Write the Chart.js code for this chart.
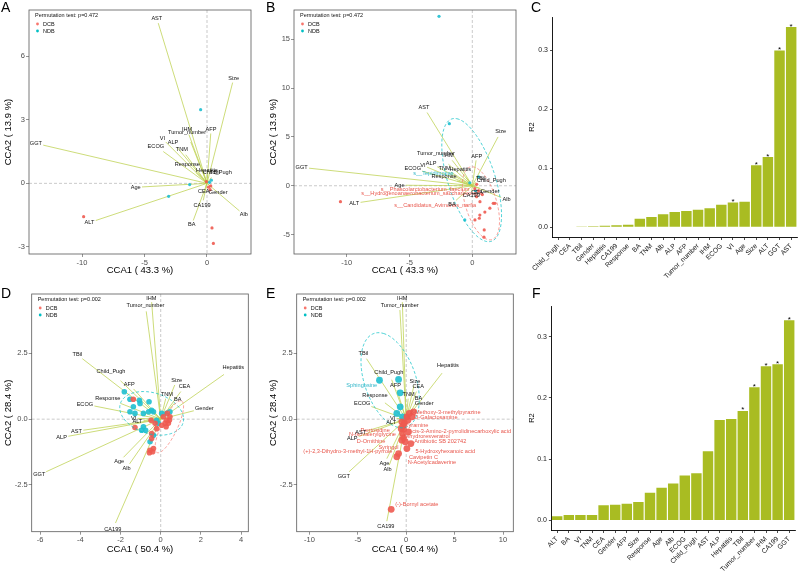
<!DOCTYPE html>
<html><head><meta charset="utf-8">
<script src="https://cdn.jsdelivr.net/npm/chart.js@4.4.1/dist/chart.umd.min.js"></script>
<style>
html,body{margin:0;padding:0;background:#fff;}
#wrap{position:relative;width:799px;height:571px;overflow:hidden;background:#fff;font-family:'Liberation Sans',Arial,Helvetica,sans-serif;}
canvas{position:absolute;}
.pl{position:absolute;font-size:14px;line-height:14px;color:#000;}
</style></head><body>
<div id="wrap">
<canvas id="cA" width="265" height="285" style="left:0;top:0"></canvas>
<canvas id="cB" width="260" height="285" style="left:265px;top:0"></canvas>
<canvas id="cC" width="274" height="285" style="left:525px;top:0"></canvas>
<canvas id="cD" width="265" height="286" style="left:0;top:285px"></canvas>
<canvas id="cE" width="260" height="286" style="left:265px;top:285px"></canvas>
<canvas id="cF" width="274" height="286" style="left:525px;top:285px"></canvas>
<div class="pl" style="left:1px;top:0">A</div>
<div class="pl" style="left:266px;top:0">B</div>
<div class="pl" style="left:531px;top:0">C</div>
<div class="pl" style="left:1px;top:286px">D</div>
<div class="pl" style="left:266px;top:286px">E</div>
<div class="pl" style="left:532px;top:286px">F</div>
</div>
<script>
// ---------------- DATA ----------------
// Panel A (CCA, species level)
const A_pText = 'Permutation test: p=0.472';
const A_xTitle = 'CCA1 ( 43.3 %)';
const A_yTitle = 'CCA2 ( 13.9 %)';
const A_xTicks = [-10, -5, 0];
const A_yTicks = [-3, 0, 3, 6];
const A_dcbX = [-9.87, 0.4, 0.51, 0.12, 0.25, -0.05, 0.3];
const A_dcbY = [-1.57, -2.1, -2.83, -0.18, -0.3, 0.08, -0.12];
const A_ndbX = [-0.51, -1.39, -3.07, 0.2, 0.35];
const A_ndbY = [3.47, -0.06, -0.61, 0.05, 0.15];
const A_envNames = ['AST','Size','GGT','AFP','IHM','Tumor_number','VI','ALP','ECOG','TNM','Response','Hepatitis','TBil','Child_Pugh','CEA','Gender','Age','ALT','CA199','BA','Alb'];
const A_envX = [-3.9, 2.05, -13.1, 0.3, -1.45, -1.3, -3.3, -2.4, -3.5, -1.7, -0.9, 0.0, 0.35, 0.1, -0.1, 0.3, -5.2, -8.9, -0.3, -1.1, 2.6];
const A_envY = [7.55, 4.75, 1.8, 2.35, 2.3, 1.95, 1.95, 1.7, 1.5, 1.35, 0.52, 0.45, 0.28, 0.06, -0.15, -0.15, -0.17, -1.75, -0.8, -1.75, -1.3];

// Panel B (CCA with species)
const B_pText = 'Permutation test: p=0.472';
const B_xTitle = 'CCA1 ( 43.3 %)';
const B_yTitle = 'CCA2 ( 13.9 %)';
const B_xTicks = [-10, -5, 0];
const B_yTicks = [-5, 0, 5, 10, 15];
const B_dcbX = [-10.5, 0.34, 0.61, 1.67, 0.56, 0.21, 0.95, 0.93, 1.4, 1.8, 0.6, 0.2, 0.5, 0.8, 0.35, 1.0];
const B_dcbY = [-1.63, -1.12, -1.63, -1.8, -3.33, -3.5, -4.52, -5.27, -2.3, -1.8, -3.0, -0.3, -0.5, -0.9, 0.15, -2.7];
const B_ndbX = [-2.65, -1.83, -0.6, 0.5, -0.2, 0.25];
const B_ndbY = [17.35, 6.36, -3.5, 0.9, 0.3, -0.5];
const B_envNames = A_envNames;
const B_envX = [-3.6, 2.05, -13.0, 0.3, -1.6, -1.9, -3.6, -2.8, -4.0, -1.7, -1.2, -0.5, 0.3, 0.3, 0.1, 0.6, -5.3, -8.9, -0.05, -1.3, 2.3];
const B_envY = [7.5, 5.0, 1.8, 2.6, 2.6, 2.2, 1.9, 1.95, 1.5, 1.4, 0.5, 0.85, 0.35, 0.1, -0.2, -0.25, 0.05, -1.7, -0.6, -1.5, -1.2];
const B_taxNames = ['s__Phascolarctobacterium_faecium','s__Hydrogenoanaerobacterium_saccharovorans','s__Candidatus_Avimonas_narfia','s__Tepidimonas'];
const B_taxX = [-3.76, -4.02, -2.96, -3.1];
const B_taxY = [-0.34, -0.78, -2.04, 1.22];
const B_taxGroup = ['DCB','DCB','DCB','NDB'];
// ellipse: centre x, centre y, axis-1 x, axis-1 y, axis-2 x, axis-2 y (data units)
const B_ellNDB = [-0.05, 0.58, -1.19, 6.29, 2.06, -0.51];
const B_ellDCB = [0.69, -1.8, -0.66, 3.74, 1.32, -0.17];

// Panel C (R2 of clinical factors, species)
const C_cats = ['Child_Pugh','CEA','TBil','Gender','Hepatitis','CA199','Response','BA','TNM','Alb','ALP','AFP','Tumor_number','IHM','ECOG','VI','Age','Size','ALT','GGT','AST'];
const C_r2 = [0.0003,0.0005,0.0008,0.0012,0.002,0.003,0.004,0.014,0.017,0.0215,0.0255,0.027,0.0295,0.032,0.038,0.0415,0.043,0.105,0.119,0.300,0.340];
const C_sig = [0,0,0,0,0,0,0,0,0,0,0,0,0,0,0,1,0,1,1,1,1];
const C_yTicks = [0, 0.1, 0.2, 0.3];

// Panel D (CCA, metabolite level)
const D_pText = 'Permutation test: p=0.002';
const D_xTitle = 'CCA1 ( 50.4 %)';
const D_yTitle = 'CCA2 ( 28.4 %)';
const D_xTicks = [-6, -4, -2, 0, 2, 4];
const D_yTicks = [-2.5, 0, 2.5];
const D_ndbX = [-1.81,-1.53,-1.06,-1.03,-0.58,-1.36,-1.53,-1.28,-0.86,-0.45,-0.36,-0.86,-0.75,-0.95,-0.53,-0.36,0.05,0.3,0.46,-0.2,-0.12,-0.6];
const D_ndbY = [1.04,0.76,0.72,0.6,0.66,0.47,0.28,0.22,0.22,0.34,0.28,-0.29,-0.42,-0.42,-0.86,-0.61,0.22,0.22,0.28,-0.04,-0.16,0.28];
const D_dcbX = [-1.36,-1.28,-0.48,-0.28,-0.45,-0.2,-0.45,-0.53,-0.56,-0.36,-0.4,0.13,0.3,0.38,0.46,0.22,0.33,0.27,0.43,0.05];
const D_dcbY = [0.76,-0.32,-0.04,-0.16,-0.55,-0.36,-0.74,-1.18,-1.28,-1.12,-1.24,0.09,-0.04,-0.16,0.09,-0.16,0.22,-0.29,-0.04,-0.23];
const D_envNames = ['IHM','Tumor_number','TBil','Hepatitis','Child_Pugh','Size','CEA','AFP','TNM','BA','Response','ECOG','Gender','VI','ALT','AST','ALP','GGT','Age','Alb','CA199'];
const D_envX = [-0.45, -0.72, -3.9, 3.15, -2.0, 0.7, 1.0, -1.35, 0.25, 0.68, -2.0, -3.3, 1.65, -1.15, -0.85, -3.85, -4.6, -5.7, -1.85, -1.55, -2.25];
const D_envY = [4.45, 4.1, 2.3, 1.7, 1.46, 1.3, 1.05, 1.15, 0.78, 0.6, 0.6, 0.5, 0.32, 0.03, -0.05, -0.42, -0.65, -2.0, -1.45, -1.7, -3.95];
const D_ellNDB = [-0.45, 0.22, 1.58, -0.13, -0.17, 0.82];
const D_ellDCB = [0.43, -0.29, 0.61, 0.98, 0.36, -0.13];

// Panel E (CCA with metabolites)
const E_pText = 'Permutation test: p=0.002';
const E_xTitle = 'CCA1 ( 50.4 %)';
const E_yTitle = 'CCA2 ( 28.4 %)';
const E_xTicks = [-10, -5, 0, 5, 10];
const E_yTicks = [-2.5, 0, 2.5];
const E_dcbX = [0.07,0.31,0.59,-0.45,-0.34,-0.28,-0.38,-0.28,-0.45,-0.1,0.07,-0.79,-0.97,0.48,0.24,-1.55,0.76,0.17,-0.52,-0.2];
const E_dcbY = [0.09,0.22,0.09,-0.1,-0.25,-0.38,-0.55,-0.71,-0.8,-0.86,-1.12,-1.31,-1.43,-0.93,-0.48,-3.43,0.28,-0.04,-0.36,-0.15];
const E_ndbX = [-2.76,-0.79,-0.62,-0.97,-0.38,-0.62];
const E_ndbY = [1.48,1.51,1.0,0.22,0.09,0.47];
const E_envNames = D_envNames;
const E_envX = [-0.4, -0.65, -4.1, 3.7, -1.5, 0.8, 1.05, -0.95, 0.2, 1.0, -2.2, -3.6, 1.1, -1.0, -0.9, -4.0, -4.9, -5.9, -2.0, -1.75, -2.0];
const E_envY = [4.45, 4.15, 2.3, 1.75, 1.5, 1.28, 1.05, 1.1, 0.78, 0.62, 0.62, 0.48, 0.35, 0.03, -0.07, -0.44, -0.66, -2.0, -1.5, -1.75, -3.88];
const E_metNames = ['2-Methoxy-3-methylpyrazine','D-Galactosamine','Tyramine','cis-3-Amino-2-pyrrolidinecarboxylic acid','Dihydroresveratrol','Antibiotic SB 202742','5-Hydroxyhexanoic acid','Cavipetin C','N-Acetylcadaverine','(-)-Bornyl acetate','Pentosidine','N-Isovalerylglycine','D-Ornithine','Syringol','(+)-2,3-Dihydro-3-methyl-1H-pyrrole','Sphingosine'];
const E_metX = [4.03, 3.07, 1.1, 5.72, 2.14, 3.52, 4.03, 1.79, 2.66, 1.1, -3.21, -3.48, -3.62, -1.83, -6.03, -4.59];
const E_metY = [0.24, 0.05, -0.23, -0.48, -0.67, -0.86, -1.21, -1.47, -1.66, -3.25, -0.42, -0.57, -0.84, -1.08, -1.24, 1.29];
const E_metGroup = ['DCB','DCB','DCB','DCB','DCB','DCB','DCB','DCB','DCB','DCB','DCB','DCB','DCB','DCB','DCB','NDB'];
const E_ellNDB = [-1.66, 1.48, -0.69, 1.78, 2.93, -0.32];

// Panel F (R2 of clinical factors, metabolites)
const F_cats = ['ALT','BA','VI','TNM','CEA','Gender','AFP','Size','Response','Age','Alb','ECOG','Child_Pugh','AST','ALP','Hepatitis','TBil','Tumor_number','IHM','CA199','GGT'];
const F_r2 = [0.0065,0.0087,0.0087,0.0087,0.0245,0.0256,0.0272,0.030,0.045,0.0533,0.060,0.073,0.0768,0.1127,0.1639,0.1655,0.1786,0.2172,0.2515,0.2548,0.3266];
const F_sig = [0,0,0,0,0,0,0,0,0,0,0,0,0,0,0,0,1,1,1,1,1];
const F_yTicks = [0, 0.1, 0.2, 0.3];

// ---------------- STYLE ----------------
const FONT = "'Liberation Sans', Arial, Helvetica, sans-serif";
const COL = {DCB:'#F8766D', NDB:'#00BFC4'};
const COL_PT = {DCB:'#EE5A50', NDB:'#1EBFD0'};
const COL_TXT = {DCB:'#E8564C', NDB:'#2DB5C8'};
const COL_ARROW = '#BCD04E';
const COL_BAR = '#A9BC22';

function rgba(hex, a){const n=parseInt(hex.slice(1),16);return `rgba(${n>>16&255},${n>>8&255},${n&255},${a})`;}

function ccaPlugin(o){
  return {
    id:'cca',
    beforeDatasetsDraw(chart){
      const {ctx, chartArea:ca, scales:{x,y}} = chart;
      ctx.save();
      ctx.strokeStyle='#A6A6A6'; ctx.lineWidth=0.6; ctx.setLineDash([3,2]);
      const x0=x.getPixelForValue(0), y0=y.getPixelForValue(0);
      ctx.beginPath(); ctx.moveTo(x0,ca.top); ctx.lineTo(x0,ca.bottom); ctx.stroke();
      ctx.beginPath(); ctx.moveTo(ca.left,y0); ctx.lineTo(ca.right,y0); ctx.stroke();
      ctx.restore();
    },
    afterDatasetsDraw(chart){
      const {ctx, chartArea:ca, scales:{x,y}} = chart;
      ctx.save();
      ctx.beginPath(); ctx.rect(ca.left,ca.top,ca.right-ca.left,ca.bottom-ca.top); ctx.clip();
      // ellipses
      (o.ells||[]).forEach(e=>{
        const p=e.p; ctx.strokeStyle=COL[e.g]; ctx.lineWidth=0.7; ctx.setLineDash([3,2]);
        ctx.beginPath();
        for(let k=0;k<=120;k++){const t=k/120*2*Math.PI;
          const dx=p[0]+p[2]*Math.cos(t)+p[4]*Math.sin(t), dy=p[1]+p[3]*Math.cos(t)+p[5]*Math.sin(t);
          const px=x.getPixelForValue(dx), py=y.getPixelForValue(dy);
          if(k===0)ctx.moveTo(px,py);else ctx.lineTo(px,py);}
        ctx.stroke();
      });
      ctx.setLineDash([]);
      // taxa / metabolite labels
      ctx.font = `5.6px ${FONT}`; ctx.textAlign='center'; ctx.textBaseline='middle';
      (o.tax||[]).forEach(t=>{
        t.names.forEach((n,i)=>{ctx.fillStyle=COL_TXT[t.g[i]];
          ctx.fillText(n, x.getPixelForValue(t.x[i]), y.getPixelForValue(t.y[i]));});
      });
      // arrow labels
      ctx.fillStyle='#111';
      const ox=x.getPixelForValue(0), oy=y.getPixelForValue(0);
      o.envNames.forEach((n,i)=>{
        const px=x.getPixelForValue(o.envX[i]), py=y.getPixelForValue(o.envY[i]);
        let dx=px-ox, dy=py-oy; const L=Math.hypot(dx,dy)||1; dx/=L; dy/=L;
        const w=ctx.measureText(n).width, h=4.4;
        const s=1.2+Math.abs(dx)*w/2+Math.abs(dy)*h/2;
        ctx.fillText(n, px+dx*s, py+dy*s);
      });
      ctx.restore();
      // legend
      ctx.save();
      ctx.font=`5.5px ${FONT}`; ctx.textAlign='left'; ctx.textBaseline='middle'; ctx.fillStyle='#111';
      const lx=ca.left+6, ly=ca.top+5;
      ctx.fillText(o.pText, lx, ly);
      [['DCB',9],['NDB',16]].forEach(([g,dy])=>{
        ctx.fillStyle=COL[g]; ctx.beginPath(); ctx.arc(lx+2.5, ly+dy, 1.4, 0, 2*Math.PI); ctx.fill();
        ctx.fillStyle='#111'; ctx.fillText(g, lx+8, ly+dy);
      });
      // panel border
      ctx.strokeStyle='#595959'; ctx.lineWidth=0.8;
      ctx.strokeRect(ca.left, ca.top, ca.right-ca.left, ca.bottom-ca.top);
      ctx.restore();
    }
  };
}

function axisCommon(ticksArr, fmt, fitKey, fitVal, title, tpad){
  return {
    type:'linear',
    afterBuildTicks: s=>{ s.ticks = ticksArr.map(v=>({value:v})); },
    afterFit: s=>{ s[fitKey]=fitVal; },
    grid:{display:true, drawOnChartArea:false, drawTicks:true, tickLength:3, color:'#4D4D4D', lineWidth:0.6},
    border:{display:false},
    ticks:{font:{family:FONT,size:7.5}, color:'#4D4D4D', padding:1, maxRotation:0, minRotation:0, autoSkip:false, callback:v=>fmt(v)},
    title:{display:true, text:title, color:'#000', font:{family:FONT,size:9.5}, padding:tpad}
  };
}

function ccaChart(id, o){
  const ds=[];
  ds.push({label:'DCB', data:o.dcbX.map((v,i)=>({x:v,y:o.dcbY[i]})), backgroundColor:rgba(COL_PT.DCB,0.9), borderWidth:0, pointRadius:o.r});
  ds.push({label:'NDB', data:o.ndbX.map((v,i)=>({x:v,y:o.ndbY[i]})), backgroundColor:rgba(COL_PT.NDB,0.9), borderWidth:0, pointRadius:o.r});
  o.envNames.forEach((n,i)=>{
    ds.push({type:'line', label:n, data:[{x:0,y:0},{x:o.envX[i],y:o.envY[i]}], borderColor:COL_ARROW, borderWidth:0.75, pointRadius:0, fill:false, tension:0});
  });
  new Chart(document.getElementById(id), {
    type:'scatter',
    data:{datasets:ds},
    options:{
      responsive:false, animation:false, devicePixelRatio:1, events:[],
      layout:{padding:{left:0,right:o.padR,top:o.padT,bottom:0}},
      plugins:{legend:{display:false}, tooltip:{enabled:false}},
      scales:{
        x:Object.assign(axisCommon(o.xTicks, o.xFmt, 'height', o.xH, o.xTitle, {top:0,bottom:o.xtPad}), {min:o.xMin, max:o.xMax, position:'bottom'}),
        y:Object.assign(axisCommon(o.yTicks, o.yFmt, 'width', o.yW, o.yTitle, {top:2.6,bottom:0}), {min:o.yMin, max:o.yMax, position:'left'})
      }
    },
    plugins:[ccaPlugin(o)]
  });
}

function barChart(id, o){
  new Chart(document.getElementById(id), {
    type:'bar',
    data:{labels:o.cats, datasets:[{data:o.vals, backgroundColor:COL_BAR, borderWidth:0, barPercentage:0.9, categoryPercentage:1}]},
    options:{
      responsive:false, animation:false, devicePixelRatio:1, events:[],
      layout:{padding:{left:0,right:o.padR,top:o.padT,bottom:0}},
      plugins:{legend:{display:false}, tooltip:{enabled:false}},
      scales:{
        x:{type:'category', offset:true, afterFit:s=>{s.height=o.xH;},
          grid:{display:true, offset:false, drawOnChartArea:false, drawTicks:true, tickLength:3, color:'#000', lineWidth:0.7},
          border:{display:true, color:'#000', width:0.9},
          ticks:{font:{family:FONT,size:6.8}, color:'#222', padding:2, maxRotation:45, minRotation:45, autoSkip:false}},
        y:{type:'linear', min:o.yMin, max:o.yMax,
          afterBuildTicks:s=>{s.ticks=o.yTicks.map(v=>({value:v}));},
          afterFit:s=>{s.width=o.yW;},
          grid:{display:true, drawOnChartArea:false, drawTicks:true, tickLength:2.5, color:'#000', lineWidth:0.7},
          border:{display:true, color:'#000', width:0.9},
          ticks:{font:{family:FONT,size:7}, color:'#222', padding:2, callback:v=>v.toFixed(1)},
          title:{display:true, text:'R2', color:'#000', font:{family:FONT,size:7.5}, padding:{top:2.5,bottom:0}}}
      }
    },
    plugins:[{
      id:'stars',
      afterDatasetsDraw(chart){
        const {ctx}=chart; const meta=chart.getDatasetMeta(0);
        ctx.save(); ctx.font=`8px ${FONT}`; ctx.fillStyle='#000'; ctx.textAlign='center'; ctx.textBaseline='alphabetic';
        meta.data.forEach((b,i)=>{ if(o.sig[i]) ctx.fillText('*', b.x, b.y+1.5); });
        ctx.restore();
      }
    }]
  });
}

const intFmt = v=>String(v);
const decFmt = v=>v.toFixed(1);

ccaChart('cA', {dcbX:A_dcbX,dcbY:A_dcbY,ndbX:A_ndbX,ndbY:A_ndbY,envNames:A_envNames,envX:A_envX,envY:A_envY,
  xTicks:A_xTicks,yTicks:A_yTicks,xFmt:intFmt,yFmt:intFmt,xTitle:A_xTitle,yTitle:A_yTitle,pText:A_pText,
  xMin:-14.24,xMax:3.52,yMin:-3.33,yMax:8.17,padR:14,padT:10,xH:31,yW:29,xtPad:8.6,r:1.6});
ccaChart('cB', {dcbX:B_dcbX,dcbY:B_dcbY,ndbX:B_ndbX,ndbY:B_ndbY,envNames:B_envNames,envX:B_envX,envY:B_envY,
  tax:[{names:B_taxNames,x:B_taxX,y:B_taxY,g:B_taxGroup}],
  ells:[{p:B_ellNDB,g:'NDB'},{p:B_ellDCB,g:'DCB'}],
  xTicks:B_xTicks,yTicks:B_yTicks,xFmt:intFmt,yFmt:intFmt,xTitle:B_xTitle,yTitle:B_yTitle,pText:B_pText,
  xMin:-14.2,xMax:3.48,yMin:-6.99,yMax:18.0,padR:9,padT:10,xH:31,yW:29,xtPad:8.6,r:1.6});
ccaChart('cD', {dcbX:D_dcbX,dcbY:D_dcbY,ndbX:D_ndbX,ndbY:D_ndbY,envNames:D_envNames,envX:D_envX,envY:D_envY,
  ells:[{p:D_ellNDB,g:'NDB'},{p:D_ellDCB,g:'DCB'}],
  xTicks:D_xTicks,yTicks:D_yTicks,xFmt:intFmt,yFmt:decFmt,xTitle:D_xTitle,yTitle:D_yTitle,pText:D_pText,
  xMin:-6.42,xMax:4.36,yMin:-4.28,yMax:4.76,padR:16.7,padT:9,xH:39.3,yW:31.7,xtPad:16,r:2.8});
ccaChart('cE', {dcbX:E_dcbX,dcbY:E_dcbY,ndbX:E_ndbX,ndbY:E_ndbY,envNames:E_envNames,envX:E_envX,envY:E_envY,
  tax:[{names:E_metNames,x:E_metX,y:E_metY,g:E_metGroup}],
  ells:[{p:E_ellNDB,g:'NDB'}],
  xTicks:E_xTicks,yTicks:E_yTicks,xFmt:intFmt,yFmt:decFmt,xTitle:E_xTitle,yTitle:E_yTitle,pText:E_pText,
  xMin:-11.31,xMax:11.06,yMin:-4.28,yMax:4.76,padR:11.7,padT:9,xH:39.3,yW:31.7,xtPad:16,r:3.4});
barChart('cC', {cats:C_cats, vals:C_r2, sig:C_sig, yTicks:C_yTicks, yMin:-0.017, yMax:0.357, padR:2, padT:17, xH:48, yW:27.5});
barChart('cF', {cats:F_cats, vals:F_r2, sig:F_sig, yTicks:F_yTicks, yMin:-0.0158, yMax:0.350, padR:4, padT:21, xH:41, yW:26.4});
</script>
</body></html>
